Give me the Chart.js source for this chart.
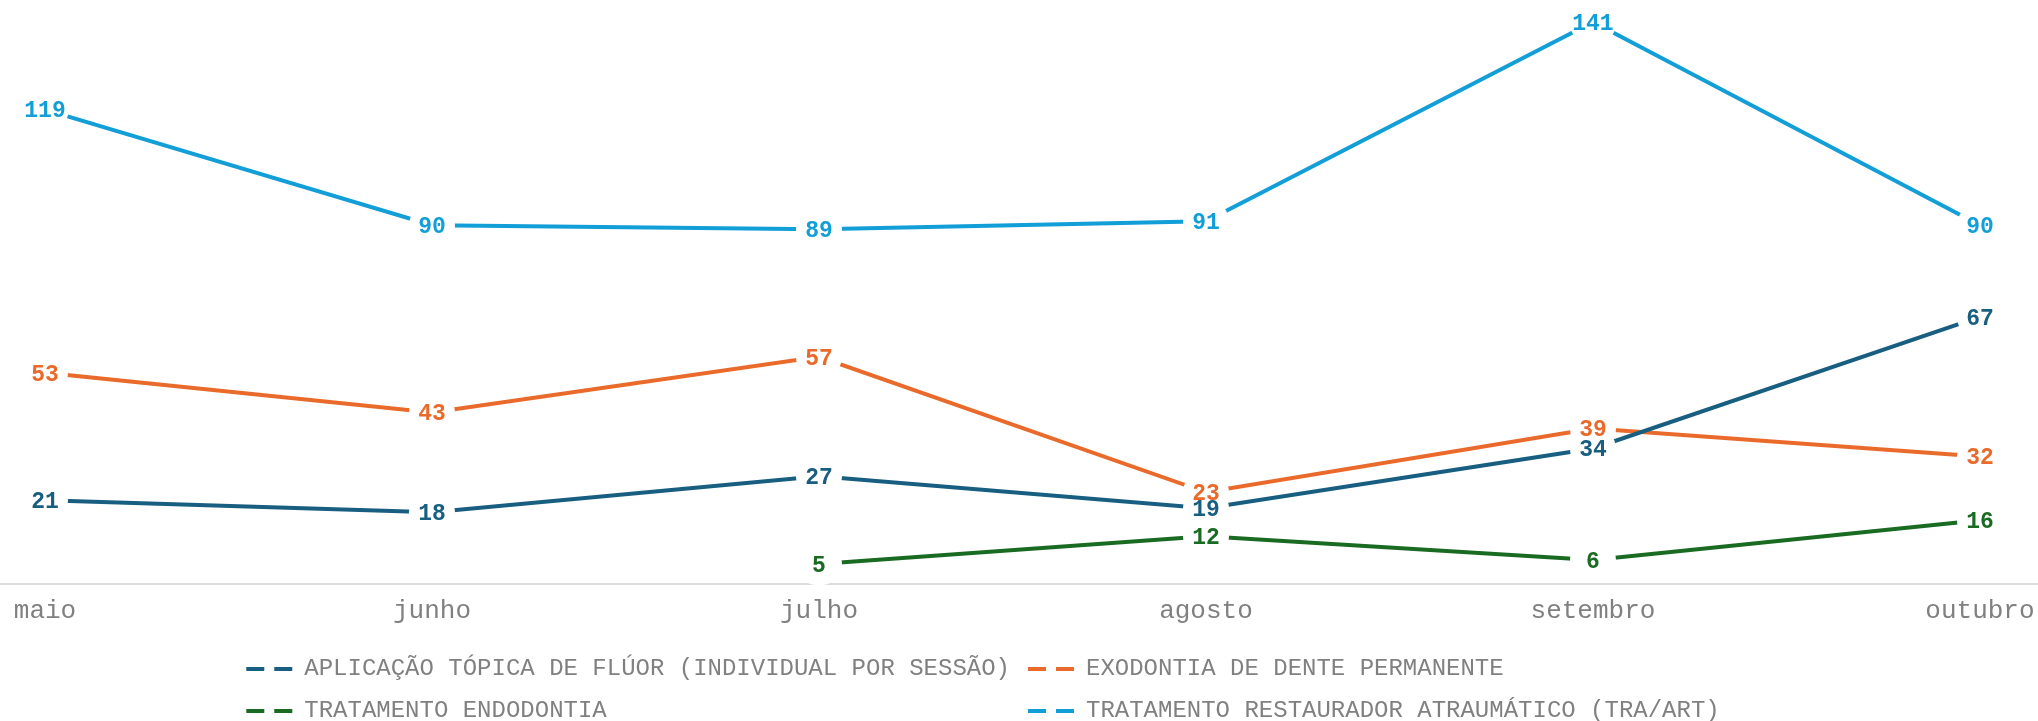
<!DOCTYPE html>
<html>
<head>
<meta charset="utf-8">
<style>
  html, body { margin: 0; padding: 0; background: #ffffff; }
  #wrap { width: 2038px; height: 721px; position: relative; }
</style>
<script src="https://cdn.jsdelivr.net/npm/chart.js@4.4.1/dist/chart.umd.min.js"></script>
</head>
<body>
<div id="wrap"><canvas id="chart"></canvas></div>
<script>
// ---- data ----
const months = ['maio', 'junho', 'julho', 'agosto', 'setembro', 'outubro'];
const seriesNames = [
  'APLICAÇÃO TÓPICA DE FLÚOR (INDIVIDUAL POR SESSÃO)',
  'EXODONTIA DE DENTE PERMANENTE',
  'TRATAMENTO ENDODONTIA',
  'TRATAMENTO RESTAURADOR ATRAUMÁTICO (TRA/ART)'
];
const aplicacaoFluor = [21, 18, 27, 19, 34, 67];
const exodontia = [53, 43, 57, 23, 39, 32];
const endodontia = [null, null, 5, 12, 6, 16];
const restaurador = [119, 90, 89, 91, 141, 90];

// ---- styles ----
const seriesColors = ['#185e80', '#e96a2a', '#1a6b22', '#129ed6'];
const seriesValues = [aplicacaoFluor, exodontia, endodontia, restaurador];

const MONO = '"Liberation Mono", "Courier New", monospace';
const LABEL_FONT = 'bold 23px "Liberation Mono", monospace';
const TEXT_GREY = '#808080';

const datasets = seriesValues.map((vals, si) => ({
  label: seriesNames[si],
  data: vals.map((v, i) => ({ x: i, y: v })),
  borderColor: seriesColors[si],
  backgroundColor: seriesColors[si],
  borderWidth: 4,
  pointRadius: 0,
  pointHoverRadius: 0,
  tension: 0,
  fill: false,
  clip: false
}));

// value labels drawn at each point (white pill + bold coloured number)
const valueLabels = {
  id: 'valueLabels',
  afterDatasetsDraw(chart) {
    const ctx = chart.ctx;
    const items = [];
    chart.data.datasets.forEach((ds, di) => {
      const meta = chart.getDatasetMeta(di);
      if (!chart.isDatasetVisible(di)) return;
      meta.data.forEach((pt, i) => {
        const raw = ds.data[i];
        if (!raw || raw.y === null || raw.y === undefined || pt.skip) return;
        items.push({ x: pt.x, y: pt.y, text: String(raw.y), color: ds.borderColor });
      });
    });
    ctx.save();
    ctx.font = LABEL_FONT;
    const h = 42, r = 21;
    items.forEach(it => {
      const tw = ctx.measureText(it.text).width;
      const w = Math.max(tw + 6, 46);
      const x0 = it.x - w / 2, y0 = it.y - h / 2;
      ctx.beginPath();
      ctx.moveTo(x0 + r, y0);
      ctx.lineTo(x0 + w - r, y0);
      ctx.arc(x0 + w - r, y0 + r, r, -Math.PI / 2, Math.PI / 2);
      ctx.lineTo(x0 + r, y0 + h);
      ctx.arc(x0 + r, y0 + r, r, Math.PI / 2, Math.PI * 1.5);
      ctx.closePath();
      ctx.fillStyle = '#ffffff';
      ctx.fill();
    });
    ctx.textAlign = 'center';
    ctx.textBaseline = 'middle';
    items.forEach(it => {
      ctx.fillStyle = it.color;
      ctx.fillText(it.text, it.x, it.y + 2);
    });
    ctx.restore();
  }
};

const legendPadLen = Math.max(...seriesNames.map(s => s.length));

new Chart(document.getElementById('chart'), {
  type: 'line',
  data: { datasets },
  plugins: [valueLabels],
  options: {
    responsive: true,
    maintainAspectRatio: false,
    animation: false,
    devicePixelRatio: 1,
    layout: { padding: { top: 22, left: 0, right: 0, bottom: -12 } },
    interaction: { mode: 'nearest', intersect: false },
    plugins: {
      tooltip: { enabled: false },
      legend: {
        position: 'bottom',
        align: 'center',
        labels: {
          font: { family: MONO, size: 24 },
          color: TEXT_GREY,
          usePointStyle: true,
          pointStyle: 'line',
          pointStyleWidth: 46,
          padding: 18,
          generateLabels(chart) {
            const items = Chart.defaults.plugins.legend.labels.generateLabels(chart);
            return items.map(it => Object.assign(it, {
              text: it.text.padEnd(legendPadLen, ' '),
              pointStyle: 'line',
              lineDash: [18, 10],
              lineWidth: 4,
              lineCap: 'butt',
              strokeStyle: seriesColors[it.datasetIndex],
              fillStyle: seriesColors[it.datasetIndex],
              fontColor: TEXT_GREY
            }));
          }
        }
      }
    },
    scales: {
      x: {
        type: 'linear',
        min: -0.1163,
        max: 5.15,
        afterBuildTicks(scale) {
          scale.ticks = months.map((m, i) => ({ value: i }));
        },
        ticks: {
          autoSkip: false,
          maxRotation: 0,
          includeBounds: false,
          padding: 3,
          color: TEXT_GREY,
          font: { family: MONO, size: 26, lineHeight: 1.885 },
          callback: (v) => months[v]
        },
        grid: { display: false, drawTicks: false },
        border: { display: true, color: '#dcdcdc', width: 2 }
      },
      y: {
        display: false,
        min: 0,
        max: 141
      }
    }
  }
});
</script>
</body>
</html>
